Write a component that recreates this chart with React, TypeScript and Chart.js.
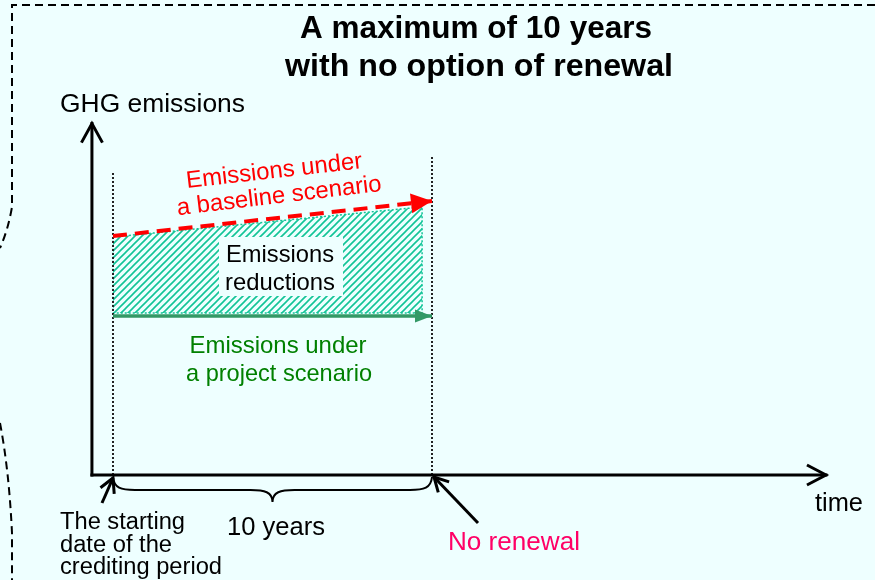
import React, { useEffect, useRef } from "react";
import { Chart, registerables } from "chart.js";

Chart.register(...registerables);

// ---- data (time in years from the start of the crediting period, emissions in arbitrary units) ----
const creditingPeriod = [0, 10];
const timeAxisRange = [-0.66, 22.35];
const emissionsAxisRange = [0, 22.1];
const baselineEmissions = [15.03, 17.23];
const projectEmissions = [10, 10];
const reductionTimes = [0, 9.69];
const reductionUpper = [14.97, 16.86];
const reductionLower = [10.19, 10.19];
const markerHeights = [19.06, 20.06];
const viewTime = [-3.542, 23.887];
const viewEmissions = [-6.604, 29.874];

// ---- text ----
const titleLines = ["A maximum of 10 years", "with no option of renewal"];
const yAxisLabel = "GHG emissions";
const xAxisLabel = "time";
const baselineLabel = ["Emissions under", "a baseline scenario"];
const projectLabel = ["Emissions under", "a project scenario"];
const reductionLabel = ["Emissions", "reductions"];
const periodLabel = "10 years";
const startLabel = ["The starting", "date of the", "crediting period"];
const endLabel = "No renewal";

const FONT = "'Liberation Sans', Arial, Helvetica, sans-serif";
const BG = "#EEFFFF";
const TEAL = "#12C497";
const RED = "#FF0000";
const GREEN = "#339966";
const PINK = "#FF0066";

function txt(ctx: CanvasRenderingContext2D, s: string, x: number, y: number, size: number, o: any = {}) {
  const { bold = false, color = "#000", width = 0, align = "center", angle = 0 } = o;
  ctx.save();
  ctx.font = `${bold ? "bold " : ""}${size}px ${FONT}`;
  ctx.fillStyle = color;
  ctx.textBaseline = "alphabetic";
  ctx.textAlign = align;
  ctx.translate(x, y);
  if (angle) ctx.rotate((angle * Math.PI) / 180);
  if (width) {
    const m = ctx.measureText(s).width;
    ctx.scale(width / m, 1);
  }
  ctx.fillText(s, 0, 0);
  ctx.restore();
}

function chevron(ctx: CanvasRenderingContext2D, x1: number, y1: number, x2: number, y2: number, len: number, half: number, lw: number, color = "#000") {
  const a = Math.atan2(y2 - y1, x2 - x1);
  const c = Math.cos(a), s = Math.sin(a);
  const bx = x2 - c * len, by = y2 - s * len;
  const px = -s * half, py = c * half;
  ctx.save();
  ctx.setLineDash([]);
  ctx.strokeStyle = color;
  ctx.lineWidth = lw;
  ctx.lineJoin = "miter";
  ctx.lineCap = "butt";
  ctx.beginPath();
  ctx.moveTo(bx + px, by + py);
  ctx.lineTo(x2, y2);
  ctx.lineTo(bx - px, by - py);
  ctx.stroke();
  ctx.restore();
}

function arrowLine(ctx: CanvasRenderingContext2D, x1: number, y1: number, x2: number, y2: number) {
  ctx.save();
  ctx.setLineDash([]);
  ctx.strokeStyle = "#000";
  ctx.lineWidth = 3;
  ctx.beginPath();
  ctx.moveTo(x1, y1);
  ctx.lineTo(x2, y2);
  ctx.stroke();
  ctx.restore();
  chevron(ctx, x1, y1, x2, y2, 14, 7.5, 3);
}

function tri(ctx: CanvasRenderingContext2D, x1: number, y1: number, x2: number, y2: number, len: number, half: number, color: string) {
  const a = Math.atan2(y2 - y1, x2 - x1);
  const c = Math.cos(a), s = Math.sin(a);
  const bx = x2 - c * len, by = y2 - s * len;
  const px = -s * half, py = c * half;
  ctx.save();
  ctx.fillStyle = color;
  ctx.beginPath();
  ctx.moveTo(bx + px, by + py);
  ctx.lineTo(x2, y2);
  ctx.lineTo(bx - px, by - py);
  ctx.closePath();
  ctx.fill();
  ctx.restore();
}

function makePattern(): CanvasPattern | string {
  const s = 7;
  const c = document.createElement("canvas");
  c.width = s;
  c.height = s;
  const g = c.getContext("2d");
  if (!g) return TEAL;
  g.strokeStyle = TEAL;
  g.lineWidth = 1.6;
  g.beginPath();
  for (const k of [-s, 0, s]) {
    g.moveTo(k - 1, s + 1);
    g.lineTo(k + s + 1, -1);
  }
  g.stroke();
  const p = g.createPattern(c, "repeat");
  return p || TEAL;
}

const decorPlugin = {
  id: "decor",
  beforeDraw(chart: any) {
    const ctx: CanvasRenderingContext2D = chart.ctx;
    ctx.save();
    ctx.fillStyle = BG;
    ctx.fillRect(0, 0, chart.width, chart.height);
    ctx.strokeStyle = "#000";
    ctx.lineWidth = 2;
    ctx.setLineDash([8, 5]);
    ctx.beginPath();
    ctx.moveTo(chart.width, 5);
    ctx.lineTo(12, 5);
    ctx.lineTo(12, 207);
    ctx.quadraticCurveTo(8, 230, 0, 248);
    ctx.moveTo(0, 423);
    ctx.quadraticCurveTo(9, 470, 12, 533);
    ctx.lineTo(12, chart.height);
    ctx.stroke();
    ctx.restore();
  },
  afterDatasetsDraw(chart: any) {
    const ctx: CanvasRenderingContext2D = chart.ctx;
    const X = (v: number) => chart.scales.x.getPixelForValue(v);
    const Y = (v: number) => chart.scales.y.getPixelForValue(v);

    // axis arrowheads
    const ox = X(timeAxisRange[0]), oy = Y(0);
    chevron(ctx, ox, oy, X(timeAxisRange[1]), oy, 19, 10, 3);
    chevron(ctx, ox, oy, ox, Y(emissionsAxisRange[1]), 19, 10.5, 3);

    // scenario arrowheads
    tri(ctx, X(creditingPeriod[0]), Y(baselineEmissions[0]), X(creditingPeriod[1]), Y(baselineEmissions[1]), 21, 10, RED);
    tri(ctx, X(creditingPeriod[0]), Y(projectEmissions[0]), X(creditingPeriod[1]), Y(projectEmissions[1]), 17, 6.5, GREEN);

    // label box over hatch
    ctx.save();
    ctx.fillStyle = BG;
    ctx.fillRect(219, 237, 124, 59);
    ctx.restore();

    // brace under the crediting period
    const bl = X(creditingPeriod[0]), br = X(creditingPeriod[1]);
    const mid = (bl + br) / 2;
    const by0 = oy + 2, by1 = oy + 15, tip = oy + 27;
    ctx.save();
    ctx.strokeStyle = "#000";
    ctx.lineWidth = 2;
    ctx.beginPath();
    ctx.moveTo(bl, by0);
    ctx.bezierCurveTo(bl + 1, by1 - 2, bl + 8, by1, bl + 22, by1);
    ctx.lineTo(mid - 22, by1);
    ctx.bezierCurveTo(mid - 8, by1, mid, by1 + 2, mid, tip);
    ctx.bezierCurveTo(mid, by1 + 2, mid + 8, by1, mid + 22, by1);
    ctx.lineTo(br - 22, by1);
    ctx.bezierCurveTo(br - 8, by1, br - 1, by1 - 2, br, by0);
    ctx.stroke();
    ctx.restore();

    // pointer arrows
    arrowLine(ctx, bl - 11, oy + 28, bl, oy + 3);
    arrowLine(ctx, br + 46, oy + 48, br + 2, oy + 2);

    // texts
    txt(ctx, titleLines[0], 476, 38, 32, { bold: true, width: 352 });
    txt(ctx, titleLines[1], 479, 76, 32, { bold: true, width: 388 });
    txt(ctx, yAxisLabel, 60, 112, 25, { align: "left", width: 185 });
    txt(ctx, xAxisLabel, 815, 511, 25, { align: "left", width: 48 });
    txt(ctx, baselineLabel[0], 275, 178, 24, { color: RED, angle: -6.5, width: 177 });
    txt(ctx, baselineLabel[1], 280, 203, 24, { color: RED, angle: -6.8, width: 206 });
    txt(ctx, reductionLabel[0], 280, 262, 24, { width: 108 });
    txt(ctx, reductionLabel[1], 280, 290, 24, { width: 110 });
    txt(ctx, projectLabel[0], 278, 353, 24, { color: "#008000", width: 177 });
    txt(ctx, projectLabel[1], 279, 381, 24, { color: "#008000", width: 186 });
    txt(ctx, periodLabel, 227, 535, 25, { align: "left", width: 98 });
    txt(ctx, startLabel[0], 60, 529, 23.5, { align: "left", width: 125 });
    txt(ctx, startLabel[1], 60, 552, 23.5, { align: "left", width: 112 });
    txt(ctx, startLabel[2], 60, 574, 23.5, { align: "left", width: 162 });
    txt(ctx, endLabel, 448, 550, 25, { align: "left", color: PINK, width: 132 });
  },
};

export default function App() {
  const ref = useRef<HTMLCanvasElement | null>(null);

  useEffect(() => {
    const canvas = ref.current;
    if (!canvas) return;

    const reductionShape = [
      ...reductionTimes.map((t, i) => ({ x: t, y: reductionUpper[i] })),
      ...reductionTimes.map((t, i) => ({ x: t, y: reductionLower[i] })).reverse(),
    ];
    reductionShape.push({ ...reductionShape[0] });

    const base = { pointRadius: 0, pointHoverRadius: 0, tension: 0, fill: false };

    const chart = new Chart(canvas, {
      type: "line",
      data: {
        datasets: [
          {
            ...base,
            label: "Emissions reductions",
            data: reductionShape,
            fill: "shape",
            backgroundColor: makePattern() as any,
            borderColor: TEAL,
            borderWidth: 1.5,
            borderDash: [2, 2],
            order: 10,
          },
          {
            ...base,
            label: "start marker",
            data: [{ x: creditingPeriod[0], y: 0 }, { x: creditingPeriod[0], y: markerHeights[0] }],
            borderColor: "#222",
            borderWidth: 2,
            borderDash: [2, 2],
            order: 9,
          },
          {
            ...base,
            label: "end marker",
            data: [{ x: creditingPeriod[1], y: 0 }, { x: creditingPeriod[1], y: markerHeights[1] }],
            borderColor: "#222",
            borderWidth: 2,
            borderDash: [2, 2],
            order: 9,
          },
          {
            ...base,
            label: "Baseline scenario",
            data: creditingPeriod.map((t, i) => ({ x: t, y: baselineEmissions[i] })),
            borderColor: RED,
            borderWidth: 4,
            borderDash: [14, 8],
            order: 5,
          },
          {
            ...base,
            label: "Project scenario",
            data: creditingPeriod.map((t, i) => ({ x: t, y: projectEmissions[i] })),
            borderColor: GREEN,
            borderWidth: 3.5,
            order: 5,
          },
          {
            ...base,
            label: "time axis",
            data: timeAxisRange.map((t) => ({ x: t, y: 0 })),
            borderColor: "#000",
            borderWidth: 3,
            borderCapStyle: "square",
            order: 1,
          },
          {
            ...base,
            label: "emissions axis",
            data: emissionsAxisRange.map((v) => ({ x: timeAxisRange[0], y: v })),
            borderColor: "#000",
            borderWidth: 3,
            borderCapStyle: "square",
            order: 1,
          },
        ],
      },
      options: {
        animation: false,
        responsive: false,
        devicePixelRatio: 1,
        events: [],
        layout: { padding: 0 },
        scales: {
          x: { type: "linear", min: viewTime[0], max: viewTime[1], display: false },
          y: { type: "linear", min: viewEmissions[0], max: viewEmissions[1], display: false },
        },
        plugins: {
          legend: { display: false },
          tooltip: { enabled: false },
        },
      },
      plugins: [decorPlugin],
    } as any);

    return () => chart.destroy();
  }, []);

  return (
    <div style={{ position: "fixed", left: 0, top: 0, width: 875, height: 580, background: BG }}>
      <canvas ref={ref} width={875} height={580} style={{ display: "block", width: 875, height: 580 }} />
    </div>
  );
}
